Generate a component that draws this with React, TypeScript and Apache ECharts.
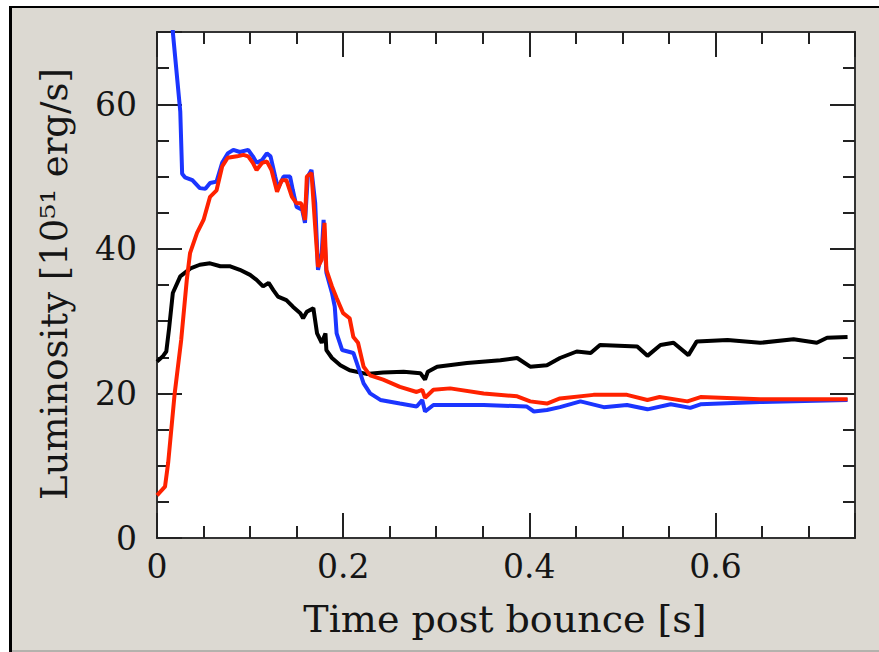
import React, { useEffect, useRef } from 'react';
import * as echarts from 'echarts';

// Tick labels
const xTickValues = [0, 0.2, 0.4, 0.6];
const yTickValues = [0, 20, 40, 60];

// Blue series
const blueTime = [0.015, 0.017, 0.025, 0.027, 0.030, 0.038, 0.046, 0.052, 0.057, 0.064, 0.070, 0.076, 0.082, 0.089, 0.098, 0.103, 0.107, 0.113, 0.118, 0.122, 0.127, 0.130, 0.136, 0.143, 0.146, 0.150, 0.156, 0.159, 0.162, 0.166, 0.170, 0.173, 0.177, 0.179, 0.182, 0.188, 0.191, 0.193, 0.199, 0.211, 0.216, 0.222, 0.229, 0.240, 0.261, 0.279, 0.285, 0.288, 0.297, 0.351, 0.397, 0.405, 0.419, 0.433, 0.455, 0.480, 0.505, 0.527, 0.552, 0.573, 0.584, 0.648, 0.742];
const blueLum = [80, 70, 59, 50.4, 49.9, 49.5, 48.4, 48.3, 49.1, 49.3, 51.9, 53.2, 53.7, 53.4, 53.7, 52.8, 51.9, 52.3, 53.2, 52.8, 50.0, 48.4, 50.0, 50.0, 48.1, 45.8, 45.4, 43.6, 50.0, 50.9, 46.3, 37.1, 39.4, 44.0, 36.7, 33.9, 32.0, 28.3, 26.0, 25.6, 23.7, 21.4, 20.0, 19.1, 18.6, 18.2, 19.1, 17.5, 18.4, 18.4, 18.2, 17.5, 17.7, 18.1, 18.9, 18.1, 18.4, 17.8, 18.5, 18.0, 18.5, 18.8, 19.1];

// Red series
const redTime = [0, 0.0086, 0.012, 0.019, 0.026, 0.032, 0.0355, 0.043, 0.050, 0.057, 0.064, 0.070, 0.076, 0.086, 0.093, 0.098, 0.103, 0.107, 0.113, 0.118, 0.123, 0.129, 0.134, 0.139, 0.145, 0.150, 0.155, 0.159, 0.161, 0.166, 0.170, 0.173, 0.177, 0.180, 0.182, 0.188, 0.193, 0.200, 0.207, 0.211, 0.216, 0.222, 0.229, 0.243, 0.261, 0.279, 0.285, 0.288, 0.297, 0.315, 0.351, 0.387, 0.401, 0.419, 0.433, 0.469, 0.505, 0.527, 0.540, 0.570, 0.584, 0.648, 0.742];
const redLum = [5.9, 7.1, 10.4, 20, 27.4, 35.7, 39.4, 42.2, 44, 47.2, 48.1, 51.4, 52.6, 52.8, 53, 52.8, 51.9, 50.9, 51.9, 52.1, 50.9, 47.9, 49.5, 49.5, 47.2, 46.3, 46.3, 44, 50, 50.5, 43, 37.5, 38.5, 43.6, 37.1, 34.8, 33.2, 31.1, 30.4, 27.8, 27, 23.7, 22.5, 21.9, 20.9, 20.2, 20.5, 19.4, 20.5, 20.7, 20, 19.6, 18.9, 18.6, 19.3, 19.8, 19.8, 19.1, 19.5, 18.9, 19.5, 19.2, 19.2];

// Black series
const blackTime = [0, 0.006, 0.010, 0.013, 0.017, 0.025, 0.036, 0.046, 0.057, 0.068, 0.078, 0.089, 0.100, 0.107, 0.114, 0.120, 0.125, 0.130, 0.139, 0.146, 0.154, 0.157, 0.161, 0.168, 0.172, 0.177, 0.181, 0.182, 0.188, 0.197, 0.207, 0.225, 0.243, 0.265, 0.283, 0.288, 0.291, 0.301, 0.333, 0.369, 0.387, 0.401, 0.419, 0.433, 0.451, 0.466, 0.476, 0.516, 0.527, 0.541, 0.555, 0.571, 0.580, 0.613, 0.648, 0.684, 0.709, 0.720, 0.742];
const blackLum = [24.4, 25.1, 25.8, 29.0, 33.9, 36.2, 37.3, 37.8, 38.0, 37.6, 37.6, 37.1, 36.4, 35.7, 34.8, 35.3, 34.3, 33.4, 32.9, 32.0, 31.1, 30.4, 31.3, 31.8, 28.3, 27.0, 28.3, 26.0, 24.9, 23.9, 23.2, 22.7, 22.9, 23.0, 22.8, 21.9, 23.0, 23.7, 24.2, 24.6, 24.9, 23.7, 23.9, 24.9, 25.8, 25.6, 26.7, 26.5, 25.2, 26.7, 27.0, 25.3, 27.2, 27.4, 27.0, 27.5, 27.0, 27.7, 27.8];

const zip = (a: number[], b: number[]) => a.map((v, i) => [v, b[i]]);

const FONT = '"DejaVu Serif", serif';
const TICK_COLOR = '#222';

function isMajor(v: number, list: number[]) {
  return list.some((t) => Math.abs(t - v) < 1e-6);
}

export default function App() {
  const ref = useRef<HTMLDivElement>(null);
  useEffect(() => {
    document.body.style.margin = '0';
    const chart = echarts.init(ref.current!, null, { renderer: 'svg' });

    const mkAxis = (position: string, min: number, max: number, interval: number, len: number, labels: boolean, list: number[], fmt: (v: number) => string) => ({
      type: 'value',
      position,
      min,
      max,
      interval,
      splitLine: { show: false },
      minorTick: { show: false },
      axisLine: { show: true, onZero: false, lineStyle: { color: '#333', width: 2 } },
      axisTick: { show: true, inside: true, length: len, lineStyle: { color: TICK_COLOR, width: 2 } },
      axisLabel: {
        show: labels,
        margin: position === 'left' ? 20 : 12,
        color: '#151515',
        fontFamily: FONT,
        fontSize: 33,
        formatter: (v: number) => (isMajor(v, list) ? fmt(v) : ''),
      },
      axisPointer: { show: false },
    });

    const xfmt = (v: number) => (v === 0 ? '0' : v.toFixed(1));
    const yfmt = (v: number) => String(Math.round(v));

    chart.setOption({
      animation: false,
      backgroundColor: '#dcd9d2',
      grid: { left: 157, top: 32, width: 698, height: 506, show: true, backgroundColor: '#ffffff', borderWidth: 0, containLabel: false },
      xAxis: [
        mkAxis('bottom', 0, 0.75, 0.05, 12, false, xTickValues, xfmt),
        mkAxis('bottom', 0, 0.75, 0.2, 25, true, xTickValues, xfmt),
        mkAxis('top', 0, 0.75, 0.05, 12, false, xTickValues, xfmt),
        mkAxis('top', 0, 0.75, 0.2, 25, false, xTickValues, xfmt),
      ],
      yAxis: [
        mkAxis('left', 0, 70, 5, 12, false, yTickValues, yfmt),
        mkAxis('left', 0, 70, 20, 25, true, yTickValues, yfmt),
        mkAxis('right', 0, 70, 5, 12, false, yTickValues, yfmt),
        mkAxis('right', 0, 70, 20, 25, false, yTickValues, yfmt),
      ],
      graphic: [
        { type: 'rect', shape: { x: 0, y: 0, width: 879, height: 6 }, style: { fill: '#ffffff' } },
        { type: 'rect', shape: { x: 0, y: 0, width: 9, height: 652 }, style: { fill: '#ffffff' } },
        { type: 'rect', shape: { x: 9, y: 6, width: 870, height: 2 }, style: { fill: '#000000' } },
        { type: 'rect', shape: { x: 9, y: 6, width: 3, height: 646 }, style: { fill: '#000000' } },
        { type: 'rect', shape: { x: 12, y: 650, width: 867, height: 2 }, style: { fill: '#b4b2ad' } },
        {
          type: 'text',
          x: 54,
          y: 284,
          rotation: Math.PI / 2,
          style: { text: 'Luminosity [10⁵¹ erg/s]', font: '37px "DejaVu Serif", serif', fill: '#151515', textAlign: 'center', textVerticalAlign: 'middle' },
        },
        {
          type: 'text',
          x: 505,
          y: 619,
          style: { text: 'Time post bounce [s]', font: '38px "DejaVu Serif", serif', fill: '#151515', textAlign: 'center', textVerticalAlign: 'middle' },
        },
      ],
      series: [
        { type: 'line', name: 'black', data: zip(blackTime, blackLum), showSymbol: false, symbol: 'none', clip: true, lineStyle: { color: '#000000', width: 4 }, itemStyle: { color: '#000' } },
        { type: 'line', name: 'blue', data: zip(blueTime, blueLum), showSymbol: false, symbol: 'none', clip: true, lineStyle: { color: '#1b35ff', width: 4 }, itemStyle: { color: '#1b35ff' } },
        { type: 'line', name: 'red', data: zip(redTime, redLum), showSymbol: false, symbol: 'none', clip: true, lineStyle: { color: '#ff2200', width: 4 }, itemStyle: { color: '#ff2200' } },
      ],
    });
    return () => chart.dispose();
  }, []);
  return <div ref={ref} style={{ position: 'fixed', left: 0, top: 0, width: 879, height: 652 }} />;
}
